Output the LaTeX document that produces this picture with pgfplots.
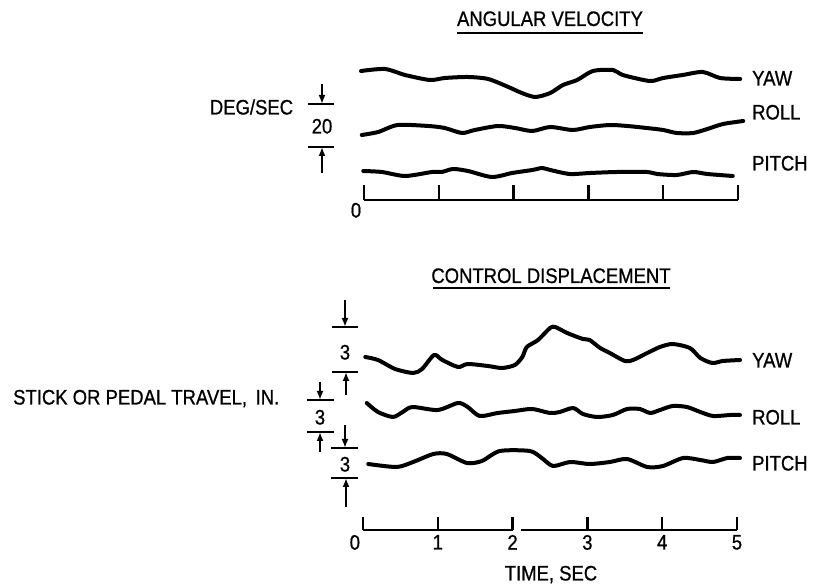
\documentclass[border=0pt]{standalone}
\usepackage{pgfplots}
\pgfplotsset{compat=1.18}
\usepackage{fontspec}
\setmainfont{Liberation Sans}[FakeStretch=0.88, FakeBold=0.8]
\usetikzlibrary{arrows.meta}

\pgfplotsset{
  trace/.style={black, line width=4pt, smooth, tension=0.45, line join=round, line cap=round},
  ruler/.style={
    scale only axis, clip=false,
    xmin=0, xmax=5, ymin=0,
    axis x line=bottom, hide y axis,
    xtick={0,1,2,3,4,5},
    tick align=inside,
    axis line style={-, line width=2.4pt, black},
    major tick style={line width=2.4pt, black},
    tick label style={font=\fontsize{21}{25}\selectfont},
    /pgf/number format/assume math mode=true,
  },
}

\begin{document}
\begin{tikzpicture}[font=\fontsize{21}{25}\selectfont]
\useasboundingbox (0,0) rectangle (815pt,587pt);

% ---------------- ANGULAR VELOCITY (y in px above the time line; 43 units = 20 deg/sec)
\begin{axis}[ruler, at={(364pt,387pt)}, anchor=south west,
  width=374pt, height=145pt, ymax=145,
  major tick length=15pt, xticklabels={}]
% YAW
\addplot[trace] coordinates {
(-0.04,129) (0.28,131) (0.55,125) (0.88,120) (1.08,122) (1.39,123) (1.66,121)
(1.93,113) (2.11,107) (2.29,103) (2.49,107) (2.66,115) (2.85,120) (3.06,129)
(3.33,130) (3.46,125) (3.82,119) (4.00,122) (4.26,125) (4.53,128) (4.76,122) (5.03,121)};
% ROLL
\addplot[trace] coordinates {
(-0.03,65) (0.19,68) (0.45,75) (0.86,74) (1.08,72) (1.31,67) (1.48,70) (1.79,74)
(2.02,72) (2.25,69) (2.49,73) (2.79,70) (3.02,73) (3.29,75) (3.52,74) (3.78,72)
(4.00,70) (4.18,67) (4.40,67) (4.59,71) (4.80,76) (5.07,79)};
% PITCH
\addplot[trace] coordinates {
(-0.01,29) (0.24,28) (0.55,24) (0.91,28) (1.04,28) (1.19,31) (1.39,29) (1.71,23)
(1.98,27) (2.25,30) (2.38,32) (2.49,30) (2.75,26) (3.02,27) (3.38,28) (3.78,28)
(3.92,26) (4.18,25) (4.40,28) (4.59,26) (4.93,24)};
\end{axis}

% ---------------- CONTROL DISPLACEMENT (y in px above the time line; 45 units = 3 in.)
\begin{axis}[ruler, at={(363pt,57pt)}, anchor=south west,
  width=374pt, height=235pt, ymax=235,
  major tick length=13pt,
  axis line style={draw=none},
  xticklabels={\makebox[0pt][r]{0\kern3pt},1,2,3,4,5},
  xticklabel style={yshift=-1.5pt}]
% time line with its gap
\addplot[black, line width=2.4pt] coordinates {(0,0) (2.0,0)};
\addplot[black, line width=2.4pt] coordinates {(2.11,0) (5,0)};
% YAW
\addplot[trace] coordinates {
(0.03,173) (0.20,170) (0.43,161) (0.67,157) (0.79,161) (0.95,175) (1.06,170)
(1.27,163) (1.40,166) (1.67,164) (1.86,162) (2.03,165) (2.13,173) (2.19,183)
(2.34,190) (2.50,202) (2.57,203) (2.73,197) (2.94,191) (3.03,190) (3.17,182)
(3.30,177) (3.50,169) (3.61,170) (3.80,177) (3.97,183) (4.14,186) (4.37,182)
(4.51,172) (4.67,167) (4.81,169) (5.04,170)};
% ROLL
\addplot[trace] coordinates {
(0.05,127) (0.20,118) (0.40,113) (0.53,118) (0.66,123) (1.00,120) (1.27,127)
(1.40,123) (1.56,114) (1.80,117) (2.03,119) (2.26,121) (2.50,117) (2.63,118)
(2.81,122) (2.94,116) (3.13,113) (3.34,115) (3.53,121) (3.70,121) (3.84,117)
(3.97,120) (4.14,124) (4.33,123) (4.51,118) (4.68,114) (4.91,115) (5.04,115)};
% PITCH
\addplot[trace] coordinates {
(0.07,66) (0.45,63) (0.67,68) (0.94,76) (1.12,76) (1.39,67) (1.59,69) (1.83,79)
(2.23,79) (2.39,72) (2.54,64) (2.77,68) (3.03,66) (3.30,68) (3.53,71) (3.80,63)
(4.01,64) (4.28,72) (4.51,70) (4.68,68) (4.87,72) (5.04,72)};
\end{axis}

% ---------------- annotations (1pt = 1px of the reference, y measured from the bottom)
\begin{scope}[x=1pt, y=1pt]
  \tikzset{bar/.style={line width=2.2pt, black},
           arr/.style={line width=2.2pt, black, -{Latex[length=9pt,width=7pt]}}}
  % titles
  \node[anchor=base, inner sep=0pt] at (550,561) {ANGULAR VELOCITY};
  \draw[line width=2pt] (457,554) -- (643,554);
  \node[anchor=base, inner sep=0pt] at (551,304) {CONTROL DISPLACEMENT};
  \draw[line width=2pt] (433,299) -- (670,299);
  % right-hand trace names
  \node[anchor=base west, inner sep=0pt] at (752,501.5) {YAW};
  \node[anchor=base west, inner sep=0pt] at (752,467.5) {ROLL};
  \node[anchor=base west, inner sep=0pt] at (752,416.5) {PITCH};
  \node[anchor=base west, inner sep=0pt] at (752,219.5) {YAW};
  \node[anchor=base west, inner sep=0pt] at (752,162.5) {ROLL};
  \node[anchor=base west, inner sep=0pt] at (752,116.5) {PITCH};
  % top "0" and bottom axis title
  \node[anchor=base, inner sep=0pt] at (356,369.5) {0};
  \node[anchor=base, inner sep=0pt] at (551,6.5) {TIME, SEC};
  % DEG/SEC scale
  \node[anchor=base, inner sep=0pt] at (251.5,472.5) {DEG/SEC};
  \draw[bar] (308,483) -- (334,483);
  \draw[bar] (308,440) -- (334,440);
  \draw[arr] (322,503) -- (322,483);
  \draw[arr] (322,414) -- (322,440);
  \node[anchor=base, inner sep=0pt] at (322,453.5) {20};
  % STICK OR PEDAL TRAVEL scales
  \node[anchor=base west, inner sep=0pt] at (13,182.5) {STICK OR PEDAL TRAVEL,\, IN.};
  % yaw scale
  \draw[bar] (332,260) -- (358,260);
  \draw[bar] (332,215) -- (358,215);
  \draw[arr] (345,287) -- (345,260);
  \draw[arr] (346,192) -- (346,215);
  \node[anchor=base, inner sep=0pt] at (345,227.5) {3};
  % roll scale
  \draw[bar] (307,187) -- (334,187);
  \draw[bar] (307,155) -- (334,155);
  \draw[arr] (320,205) -- (320,187);
  \draw[arr] (320,135) -- (320,155);
  \node[anchor=base, inner sep=0pt] at (320,162.5) {3};
  % pitch scale
  \draw[bar] (331,139) -- (358,139);
  \draw[bar] (331,109) -- (358,109);
  \draw[arr] (345,162) -- (345,139);
  \draw[arr] (346,80) -- (346,109);
  \node[anchor=base, inner sep=0pt] at (345,115.5) {3};
\end{scope}
\end{tikzpicture}
\end{document}
